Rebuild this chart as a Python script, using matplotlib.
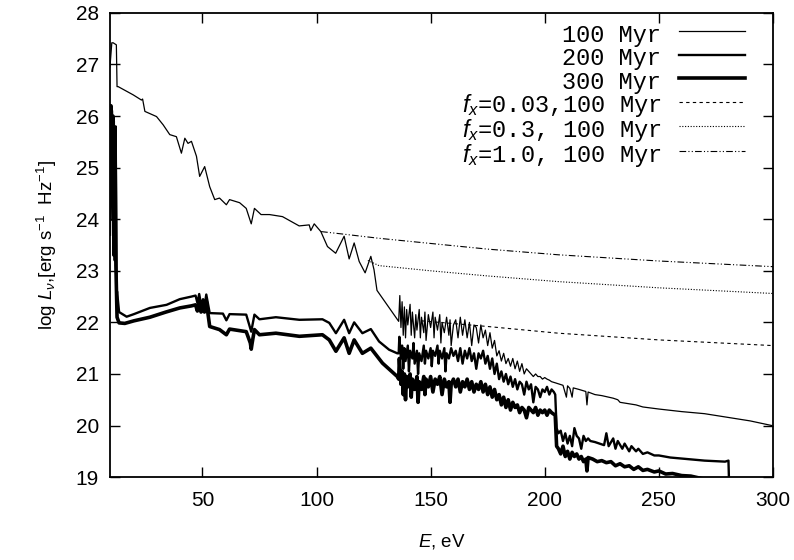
import matplotlib
matplotlib.use("Agg")
import matplotlib.pyplot as plt
from matplotlib.font_manager import FontProperties

plt.rcParams["font.family"] = "Liberation Sans"
plt.rcParams["mathtext.fontset"] = "custom"
plt.rcParams["mathtext.rm"] = "Liberation Sans"
plt.rcParams["mathtext.it"] = "Liberation Sans:italic"

# 100 Myr
e_100 = [9.5, 10.3, 10.9, 12.3, 12.6, 13.1, 19.7, 23.3, 23.8, 24.8, 29.9, 32.8, 35.7, 38.6,
         40.8, 42.3, 43.7, 45.2, 47.4, 48.8, 51.0, 53.2, 55.4, 57.5, 60.5, 61.9, 66.3, 69.2,
         71.4, 72.8, 75.7, 79.4, 85.1, 92.4, 96.8, 97.5, 99.0, 101.9, 104.8, 108.4, 112.1,
         114.3, 116.5, 118.7, 121.3, 123.8, 125.2, 126.5, 136.0,
         136.5, 137, 137.5, 138, 138.5, 139, 139.5, 140, 141, 141.5, 142, 143, 143.5, 144, 145,
         145.5, 146, 147, 147.5, 148, 149, 150, 151, 151.5, 152, 153, 154, 154.5, 155, 156, 157,
         158, 158.5, 159, 160, 161, 162, 163, 164, 165, 166, 167, 168, 169, 170, 171, 172, 173,
         174, 175, 176, 177, 178, 179, 180, 181, 182, 183, 184, 185, 186, 187, 188, 189, 190,
         191, 192, 193, 194, 195, 196, 197, 198, 199, 200, 201, 202, 203, 204.5,
         208, 209.5, 210, 211, 212, 212.5, 215, 218, 218.5, 219, 222, 225, 230, 232, 233, 240,
         243, 250, 260, 270, 280, 290, 299.5]
l_100 = [26.95, 27.42, 27.42, 27.38, 26.57, 26.57, 26.41, 26.31, 26.33, 26.09, 25.99, 25.83,
         25.64, 25.60, 25.28, 25.57, 25.47, 25.51, 25.22, 24.83, 25.02, 24.63, 24.38, 24.41,
         24.28, 24.38, 24.32, 24.21, 23.91, 24.21, 24.09, 24.09, 24.05, 23.87, 23.89, 23.78,
         23.91, 23.76, 23.47, 23.34, 23.67, 23.23, 23.54, 23.18, 22.96, 23.28, 23.02, 22.62,
         22.02,
         22.52, 21.9, 22.4, 21.75, 22.3, 21.7, 22.25, 21.95, 22.35, 21.75, 22.2, 21.7, 22.15,
         21.85, 22.25, 21.7, 22.1, 21.8, 22.2, 21.65, 22.15, 21.9, 22.2, 21.7, 22.1, 21.85,
         22.15, 21.6, 22.0, 21.8, 22.1, 21.75, 22.05, 21.55, 21.95, 22.05, 21.7, 22.1, 21.75,
         22.05, 21.7, 22.0, 21.55, 21.95, 21.9, 21.6, 21.95, 21.7, 21.85, 21.55, 21.8, 21.5,
         21.65, 21.35, 21.45, 21.25, 21.4, 21.2, 21.3, 21.15, 21.3, 21.1, 21.25, 21.05, 21.2,
         21.0, 21.1, 21.05, 21.0, 20.95, 21.0, 20.95, 20.95, 20.9, 20.93, 20.9, 20.88, 20.85,
         20.83,
         20.78, 20.55, 20.77, 20.72, 20.55, 20.73, 20.70, 20.66, 20.4, 20.65, 20.6, 20.58,
         20.53, 20.5, 20.45, 20.4, 20.36, 20.32, 20.27, 20.23, 20.16, 20.09, 20.0]

# 200 Myr
e_200 = [9.5, 9.9, 10.4, 10.8, 11.2, 11.6, 12.0, 12.4, 12.6, 13.5, 16.8, 20, 27, 34.3, 40.1,
         45.2, 47.0, 47.8, 48.6, 49.4, 50.3, 50.9, 51.7, 53.2, 59.0, 60.5, 61.9, 69.2, 71.4,
         72.8, 75.0, 82.2, 92.5, 102.6, 105.6, 108.5, 112.1, 114.3, 116.5, 120.1, 123.8,
         127.4, 131.8, 135.4,
         136, 136.3, 137, 137.5, 138, 138.5, 139, 140, 140.5, 141, 142, 142.5, 143, 144, 144.5,
         145, 146, 147, 147.5, 148, 149, 150, 150.5, 151, 152, 153, 153.5, 154, 155, 156, 156.5,
         157, 158, 159, 160, 161, 162, 163, 164, 165, 166, 167, 168, 169, 170, 171, 172, 173,
         174, 175, 176, 177, 178, 179, 180, 181, 182, 183, 184, 185, 186, 187, 188, 189, 190,
         191, 192, 193, 194, 195, 196, 197, 198, 199, 200, 201, 202, 203, 204, 204.6,
         205.2, 206, 207, 208, 209, 210, 211, 212, 213, 214, 215, 216, 217, 218, 219, 220, 222,
         224, 226, 227, 228, 230, 231, 232, 234, 235, 237, 238, 240, 241, 243, 245, 248, 250,
         255, 260, 265, 270, 275, 279, 280.5, 281]
l_200 = [23.7, 26.15, 26.1, 25.2, 25.9, 23.2, 25.8, 22.5, 22.6, 22.2, 22.11, 22.16, 22.28,
         22.34, 22.45, 22.50, 22.52, 22.38, 22.55, 22.35, 22.45, 22.3, 22.54, 22.18, 22.17,
         22.04, 22.16, 22.15, 21.82, 22.15, 22.06, 22.10, 22.05, 22.06, 21.99, 21.79, 22.05,
         21.79, 22.00, 21.79, 21.87, 21.63, 21.47, 21.40,
         21.40, 21.72, 21.3, 21.55, 21.1, 21.5, 21.25, 21.55, 21.05, 21.45, 21.3, 21.6, 21.2,
         21.45, 21.0, 21.4, 21.25, 21.55, 21.2, 21.45, 21.3, 21.5, 21.15, 21.45, 21.35, 21.55,
         21.2, 21.45, 21.3, 21.5, 21.05, 21.4, 21.3, 21.5, 21.35, 21.45, 21.25, 21.5, 21.2,
         21.45, 21.3, 21.5, 21.25, 21.4, 21.1, 21.4, 21.3, 21.45, 21.2, 21.35, 21.1, 21.3, 21.0,
         21.2, 20.9, 21.05, 20.85, 21.0, 20.8, 20.95, 20.75, 20.9, 20.7, 20.85, 20.8, 20.6,
         20.85, 20.7, 20.8, 20.45, 20.75, 20.7, 20.55, 20.7, 20.65, 20.75, 20.6, 20.7, 20.65,
         20.6,
         19.95, 19.85, 19.9, 19.7, 19.85, 19.65, 19.8, 19.6, 19.95, 19.8, 19.75, 19.55, 19.8,
         19.7, 19.75, 19.7, 19.68, 19.65, 19.62, 19.85, 19.6, 19.75, 19.55, 19.7, 19.55, 19.65,
         19.5, 19.6, 19.5, 19.55, 19.45, 19.48, 19.42, 19.42, 19.38, 19.36, 19.34, 19.32,
         19.31, 19.3, 19.32, 18.5]

# 300 Myr
e_300 = [9.5, 9.9, 10.3, 10.8, 11.3, 11.7, 12.1, 12.6, 13.5, 16, 20, 27, 34, 40.1, 45.2,
         47.0, 47.8, 48.6, 49.4, 50.3, 50.9, 51.7, 53.2, 57.5, 60.5, 61.9, 69.2, 71.0, 71.4,
         71.8, 72.8, 75.0, 82.2, 92.5, 102.6, 105.6, 108.5, 112.1, 114.3, 116.5, 120.1, 123.8,
         128.9, 135.4,
         136, 136.3, 137, 137.5, 138, 138.5, 139, 139.5, 140, 141, 141.5, 142, 143, 144, 144.5,
         145, 146, 147, 147.5, 148, 149, 150, 151, 152, 153, 154, 155, 156, 157, 158, 158.5,
         159, 160, 161, 162, 163, 164, 165, 166, 167, 168, 169, 170, 171, 172, 173, 174, 175,
         176, 177, 178, 179, 180, 181, 182, 183, 184, 185, 186, 187, 188, 189, 190, 191, 192,
         193, 194, 195, 196, 197, 198, 199, 200, 201, 202, 203, 204.6,
         205.2, 206, 207, 208, 209, 210, 211, 212, 213, 214, 215, 216, 217, 218, 218.5, 219,
         221, 223, 225, 227, 229, 231, 233, 235, 237, 239, 241, 243, 245, 248, 250, 253, 256,
         260, 264, 268, 270]
l_300 = [24.0, 26.2, 25.6, 26.0, 23.3, 25.7, 23.1, 22.1, 21.99, 21.98, 22.03, 22.10, 22.2,
         22.28, 22.32, 22.34, 22.22, 22.40, 22.2, 22.35, 22.2, 22.41, 21.92, 21.86, 21.76,
         21.87, 21.82, 21.6, 21.48, 21.6, 21.86, 21.76, 21.79, 21.73, 21.76, 21.66, 21.44,
         21.70, 21.40, 21.66, 21.40, 21.50, 21.21, 20.95,
         20.9, 21.3, 20.8, 21.05, 20.6, 21.0, 20.5, 20.95, 20.75, 21.0, 20.55, 20.9, 20.7,
         20.95, 20.45, 20.85, 20.7, 20.95, 20.6, 20.9, 20.75, 20.95, 20.65, 20.9, 20.8, 20.95,
         20.6, 20.9, 20.75, 20.85, 20.45, 20.8, 20.9, 20.75, 20.9, 20.65, 20.85, 20.75, 20.9,
         20.7, 20.85, 20.65, 20.8, 20.7, 20.85, 20.65, 20.8, 20.6, 20.75, 20.55, 20.7, 20.5,
         20.6, 20.4, 20.55, 20.35, 20.5, 20.3, 20.45, 20.35, 20.4, 20.25, 20.35, 20.3, 20.15,
         20.35, 20.3, 20.25, 20.35, 20.2, 20.3, 20.25, 20.3, 20.2, 20.3, 20.25, 20.2,
         19.6, 19.55, 19.45, 19.6, 19.4, 19.5, 19.35, 19.48, 19.4, 19.45, 19.35, 19.4, 19.3,
         19.35, 19.12, 19.38, 19.35, 19.3, 19.32, 19.28, 19.3, 19.22, 19.26, 19.2, 19.22,
         19.15, 19.2, 19.13, 19.15, 19.1, 19.12, 19.06, 19.07, 19.03, 19.02, 18.98, 18.96]

# X-ray tails, 100 Myr
e_fx003 = [146, 156.5, 175, 206, 250, 300]
l_fx003 = [22.03, 21.99, 21.92, 21.79, 21.66, 21.55]
e_fx03 = [122.5, 127.4, 150, 175, 206, 250, 300]
l_fx03 = [23.2, 23.10, 23.0, 22.9, 22.79, 22.67, 22.56]
e_fx1 = [102, 110, 127.4, 150, 175, 206, 250, 300]
l_fx1 = [23.76, 23.72, 23.63, 23.53, 23.42, 23.31, 23.19, 23.08]

fig = plt.figure(figsize=(7.94, 5.6), dpi=100)
ax = fig.add_axes([0.1385, 0.148, 0.835, 0.829])

ax.plot(e_100, l_100, color="black", lw=0.9, label="100 Myr")
ax.plot(e_200, l_200, color="black", lw=1.7, label="200 Myr")
ax.plot(e_300, l_300, color="black", lw=2.6, label="300 Myr")
ax.plot(e_fx003, l_fx003, color="black", lw=0.8, ls=(0, (3, 3)),
        label=r"$f_x$=0.03,100 Myr")
ax.plot(e_fx03, l_fx03, color="black", lw=0.8, ls=(0, (1, 1.5)),
        label=r"$f_x$=0.3, 100 Myr")
ax.plot(e_fx1, l_fx1, color="black", lw=0.8, ls=(0, (6, 2, 1, 2, 1, 2)),
        label=r"$f_x$=1.0, 100 Myr")

ax.set_xlim(9.5, 300)
ax.set_ylim(19, 28)
ax.set_xticks([50, 100, 150, 200, 250, 300])
ax.set_yticks(range(19, 29))
ax.tick_params(direction="in", top=True, right=True, length=7, width=1,
               labelsize=15)
ax.tick_params(axis="x", pad=10)
ax.tick_params(axis="y", pad=8)
for sp in ax.spines.values():
    sp.set_linewidth(1.3)

ax.set_xlabel(r"$E$, eV", fontsize=13.5, labelpad=16)
ax.set_ylabel(r"log $L_{\nu}$,[erg s$^{-1}$  Hz$^{-1}$]", fontsize=13.5, labelpad=12)

# uniform rows: handle box taller than any label, then pulled together
ax.legend(loc="upper right", bbox_to_anchor=(0.958, 0.984), frameon=False,
          markerfirst=False, prop=FontProperties(family="Liberation Mono", size=17),
          handlelength=2.8, handletextpad=0.75, handleheight=1.4,
          labelspacing=-0.16, borderpad=0, borderaxespad=0)

fig.savefig("out.png", dpi=100)
